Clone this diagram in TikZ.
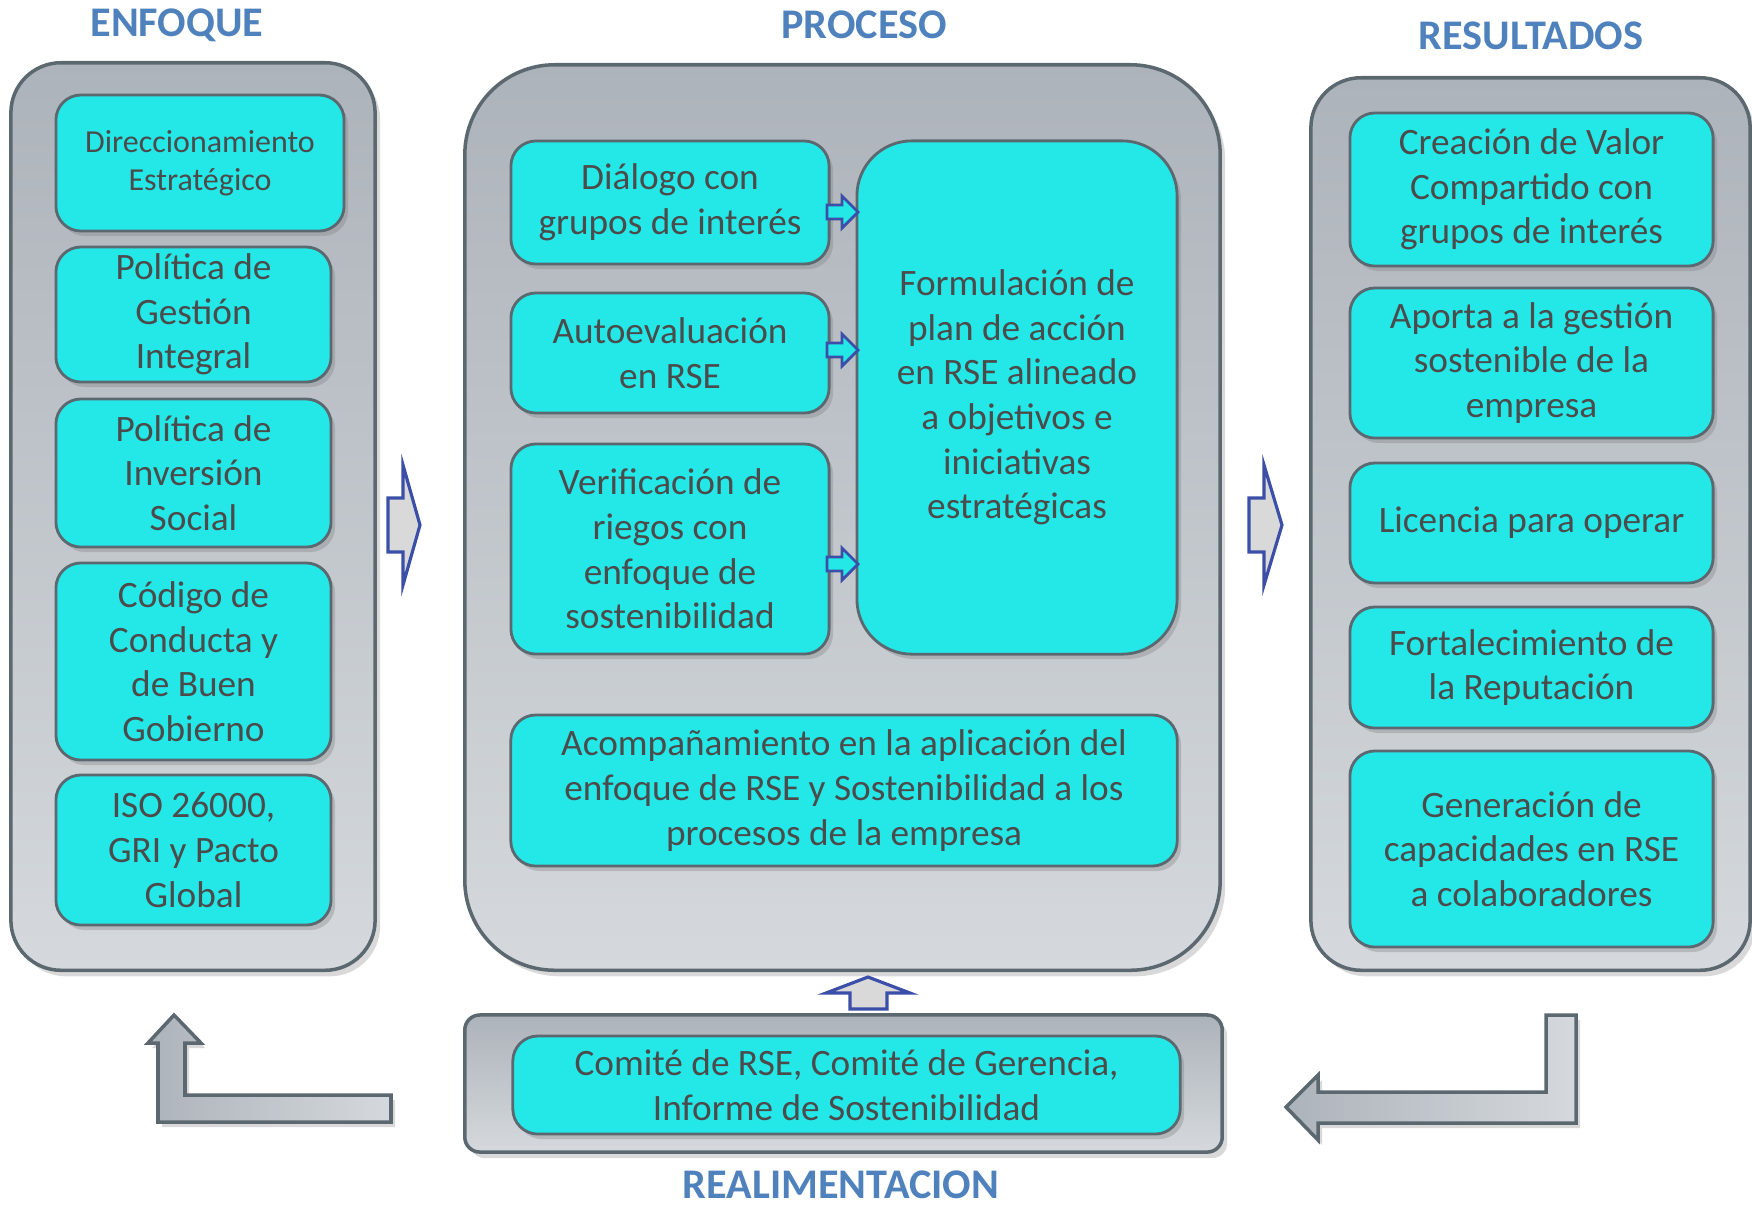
\documentclass[tikz,border=0pt]{standalone}
\usepackage{fontspec}
\setmainfont{Carlito}
\usetikzlibrary{shadows}
\definecolor{cian}{HTML}{24E8E8}
\definecolor{texto}{HTML}{4B4B4B}
\definecolor{borde}{HTML}{5C6870}
\definecolor{azul}{HTML}{4F81BD}
\definecolor{azulfl}{HTML}{3B4FA8}
\definecolor{grisfl}{HTML}{D9D9D9}
\definecolor{grisosc}{HTML}{ADB3BA}
\definecolor{grisclaro}{HTML}{D5D9DD}
\begin{document}
\begin{tikzpicture}[x=0.01cm, y=-0.01cm,
    caja/.style={draw=borde, fill=cian, line width=0.8pt, rounded corners=0.25cm, inner sep=0pt, text=texto, align=center, font=\fontsize{10.6}{12.7}\selectfont, drop shadow={opacity=0.35, shadow xshift=0.04cm, shadow yshift=-0.05cm}},
    marco/.style={draw=borde, line width=1pt, top color=grisosc, bottom color=grisclaro, rounded corners=0.5cm, inner sep=0pt, drop shadow={opacity=0.3, shadow xshift=0.05cm, shadow yshift=-0.06cm}},
    titulo/.style={text=azul, inner sep=0pt, font=\fontsize{12}{14}\selectfont\bfseries},
    flecha/.style={draw=azulfl, fill=grisfl, line width=0.9pt},
    flechita/.style={draw=azulfl, fill=cian, line width=0.8pt},
    vuelta/.style={draw=borde, line width=1pt, left color=grisosc, right color=grisclaro, drop shadow={opacity=0.3, shadow xshift=0.04cm, shadow yshift=-0.05cm}}]
    \useasboundingbox (0,0) rectangle (1752,1205);

    \node[titulo] (tenfoque) at (177,25) {ENFOQUE};
    \node[titulo] (tproceso) at (864,25) {PROCESO};
    \node[titulo] (tresultados) at (1531,36) {RESULTADOS};
    \node[titulo] (trealim) at (841,1185) {REALIMENTACION};

    \node[marco, minimum width=3.64cm, minimum height=9.07cm] (enfoque) at (193,516.5) {};
    \node[marco, minimum width=7.55cm, minimum height=9.05cm, rounded corners=0.9cm] (proceso) at (842.5,517.5) {};
    \node[marco, minimum width=4.39cm, minimum height=8.92cm] (resultados) at (1530.5,524) {};
    \node[marco, minimum width=7.57cm, minimum height=1.37cm, rounded corners=0.15cm] (realim) at (843.5,1083.5) {};

    \node[caja, minimum width=2.88cm, minimum height=1.36cm, font=\fontsize{9.1}{10.8}\selectfont] (direccion) at (200,163) {Direccionamiento\\Estratégico};
    \node[caja, minimum width=2.75cm, minimum height=1.35cm] (gestion) at (193.5,314.5) {Política de\\Gestión\\Integral};
    \node[caja, minimum width=2.75cm, minimum height=1.48cm] (inversion) at (193.5,473) {Política de\\Inversión\\Social};
    \node[caja, minimum width=2.75cm, minimum height=1.97cm] (codigo) at (193.5,661.5) {Código de\\Conducta y\\de Buen\\Gobierno};
    \node[caja, minimum width=2.75cm, minimum height=1.50cm] (iso) at (193.5,850) {ISO 26000,\\GRI y Pacto\\Global};

    \node[caja, minimum width=3.18cm, minimum height=1.23cm] (dialogo) at (670,202.5) {Diálogo con\\grupos de interés};
    \node[caja, minimum width=3.18cm, minimum height=1.20cm] (autoeval) at (670,353) {Autoevaluación\\en RSE};
    \node[caja, minimum width=3.18cm, minimum height=2.10cm] (riesgos) at (670,549) {Verificación de\\riegos con\\enfoque de\\sostenibilidad};
    \node[caja, minimum width=3.20cm, minimum height=5.13cm, rounded corners=0.55cm] (plan) at (1017,397.5) {Formulación de\\plan de acción\\en RSE alineado\\a objetivos e\\iniciativas\\estratégicas};
    \node[caja, minimum width=6.66cm, minimum height=1.51cm] (acompana) at (844,790.5) {Acompañamiento en la aplicación del\\enfoque de RSE y Sostenibilidad a los\\procesos de la empresa};

    \node[caja, minimum width=3.63cm, minimum height=1.53cm] (valor) at (1531.5,189.5) {Creación de Valor\\Compartido con\\grupos de interés};
    \node[caja, minimum width=3.63cm, minimum height=1.50cm] (aporta) at (1531.5,363) {Aporta a la gestión\\sostenible de la\\empresa};
    \node[caja, minimum width=3.63cm, minimum height=1.20cm] (licencia) at (1531.5,523) {Licencia para operar};
    \node[caja, minimum width=3.63cm, minimum height=1.21cm] (reputacion) at (1531.5,667.5) {Fortalecimiento de\\la Reputación};
    \node[caja, minimum width=3.63cm, minimum height=1.96cm] (capacidades) at (1531.5,849) {Generación de\\capacidades en RSE\\a colaboradores};

    \node[caja, minimum width=6.67cm, minimum height=0.98cm] (comite) at (846.5,1085) {Comité de RSE, Comité de Gerencia,\\Informe de Sostenibilidad};

    \draw[flecha] (388,498) -- (403,498) -- (403,465) -- (420,525) -- (403,585) -- (403,552) -- (388,552) -- cycle;
    \draw[flecha] (1249,498) -- (1264,498) -- (1264,465) -- (1282,525) -- (1264,585) -- (1264,552) -- (1249,552) -- cycle;
    \foreach \c in {212,350,564}
        \draw[flechita] (827,\c-7) -- (842,\c-7) -- (842,\c-16) -- (858,\c) -- (842,\c+16) -- (842,\c+7) -- (827,\c+7) -- cycle;
    \draw[flecha] (850,1009) -- (850,993) -- (826,993) -- (868,977) -- (910,993) -- (887,993) -- (887,1009) -- cycle;

    \draw[vuelta] (174,1015) -- (201,1043) -- (185,1043) -- (185,1095) -- (391,1095) -- (391,1122) -- (158,1122) -- (158,1043) -- (148,1043) -- cycle;
    \draw[vuelta] (1546,1015) -- (1576,1015) -- (1576,1123) -- (1318,1123) -- (1318,1140) -- (1286,1107) -- (1318,1075) -- (1318,1092) -- (1546,1092) -- cycle;
\end{tikzpicture}
\end{document}
